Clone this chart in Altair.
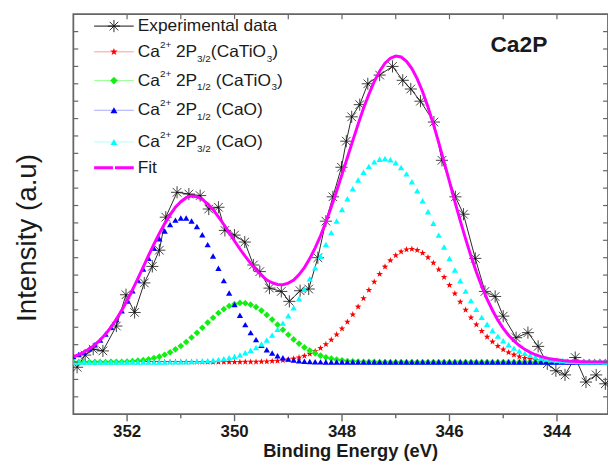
import altair as alt
import pandas as pd

FONT = "Liberation Sans"

# ---------------- data ----------------
energy_grid = [round(353.0 - 0.1 * i, 1) for i in range(101)]  # 353.0 ... 343.0

# Ca2+ 2P3/2 (CaTiO3)  - red stars
ca_tio3_p32 = [
    0, 0, 0, 0, 0, 0, 0, 0, 0, 0,
    0, 0, 0, 0, 0, 0, 0, 0, 0, 0,
    0, 0, 0, 0, 0, 0, 0, 0, 0, 0,
    0, 0, 0.01, 0.01, 0.01, 0.02, 0.03, 0.05, 0.07, 0.10,
    0.14, 0.19, 0.26, 0.35, 0.47, 0.62, 0.80, 1.02, 1.28, 1.58,
    1.92, 2.31, 2.73, 3.18, 3.66, 4.14, 4.61, 5.06, 5.48, 5.84,
    6.13, 6.35, 6.47, 6.50, 6.43, 6.27, 6.02, 5.70, 5.32, 4.88,
    4.42, 3.94, 3.46, 3.00, 2.56, 2.15, 1.78, 1.45, 1.17, 0.92,
    0.72, 0.55, 0.42, 0.31, 0.23, 0.17, 0.12, 0.08, 0.06, 0.04,
    0.03, 0.02, 0.01, 0.01, 0, 0, 0, 0, 0, 0,
    0,
]

# Ca2+ 2P1/2 (CaTiO3)  - green diamonds
ca_tio3_p12 = [
    0, 0, 0, 0, 0, 0, 0, 0.01, 0.01, 0.02,
    0.03, 0.05, 0.08, 0.11, 0.16, 0.23, 0.31, 0.42, 0.56, 0.73,
    0.92, 1.15, 1.41, 1.68, 1.97, 2.27, 2.55, 2.82, 3.04, 3.22,
    3.34, 3.40, 3.38, 3.30, 3.16, 2.96, 2.71, 2.44, 2.15, 1.86,
    1.57, 1.30, 1.06, 0.84, 0.66, 0.50, 0.37, 0.27, 0.20, 0.14,
    0.10, 0.06, 0.04, 0.03, 0.02, 0.01, 0.01, 0, 0, 0,
    0, 0, 0, 0, 0, 0, 0, 0, 0, 0,
    0, 0, 0, 0, 0, 0, 0, 0, 0, 0,
    0, 0, 0, 0, 0, 0, 0, 0, 0, 0,
    0, 0, 0, 0, 0, 0, 0, 0, 0, 0,
    0,
]

# Ca2+ 2P1/2 (CaO)  - blue triangles
cao_p12 = [
    0.31, 0.43, 0.57, 0.76, 0.99, 1.27, 1.61, 2.00, 2.45, 2.95,
    3.51, 4.10, 4.72, 5.35, 5.97, 6.55, 7.09, 7.54, 7.90, 8.16,
    8.28, 8.28, 8.11, 7.79, 7.32, 6.75, 6.10, 5.39, 4.68, 3.97,
    3.30, 2.69, 2.15, 1.69, 1.29, 0.97, 0.71, 0.52, 0.36, 0.25,
    0.17, 0.11, 0.07, 0.05, 0.03, 0.02, 0.01, 0, 0, 0,
    0, 0, 0, 0, 0, 0, 0, 0, 0, 0,
    0, 0, 0, 0, 0, 0, 0, 0, 0, 0,
    0, 0, 0, 0, 0, 0, 0, 0, 0, 0,
    0, 0, 0, 0, 0, 0, 0, 0, 0, 0,
    0, 0, 0, 0, 0, 0, 0, 0, 0, 0,
    0,
]

# Ca2+ 2P3/2 (CaO)  - cyan triangles
cao_p32 = [
    0, 0, 0, 0, 0, 0, 0, 0, 0, 0,
    0, 0, 0, 0, 0, 0, 0, 0, 0.01, 0.01,
    0.02, 0.02, 0.03, 0.04, 0.06, 0.08, 0.11, 0.14, 0.19, 0.25,
    0.32, 0.41, 0.53, 0.67, 0.83, 1.04, 1.27, 1.55, 1.88, 2.24,
    2.66, 3.12, 3.64, 4.19, 4.79, 5.42, 6.08, 6.76, 7.44, 8.11,
    8.77, 9.39, 9.96, 10.47, 10.91, 11.25, 11.51, 11.66, 11.70, 11.63,
    11.46, 11.19, 10.82, 10.37, 9.85, 9.27, 8.64, 7.98, 7.30, 6.62,
    5.95, 5.29, 4.67, 4.08, 3.53, 3.03, 2.57, 2.17, 1.81, 1.49,
    1.22, 0.99, 0.80, 0.64, 0.50, 0.39, 0.30, 0.23, 0.18, 0.13,
    0.10, 0.07, 0.05, 0.04, 0.03, 0.02, 0.01, 0.01, 0.01, 0,
    0,
]

# Fit envelope - magenta line
fit_total = [
    0.31, 0.43, 0.57, 0.76, 0.99, 1.27, 1.61, 2.01, 2.46, 2.97,
    3.54, 4.15, 4.80, 5.46, 6.13, 6.78, 7.40, 7.96, 8.46, 8.90,
    9.22, 9.45, 9.55, 9.51, 9.35, 9.10, 8.76, 8.35, 7.91, 7.44,
    6.96, 6.50, 6.07, 5.67, 5.29, 4.99, 4.72, 4.56, 4.46, 4.45,
    4.54, 4.72, 5.03, 5.43, 5.95, 6.56, 7.26, 8.05, 8.92, 9.83,
    10.79, 11.76, 12.73, 13.68, 14.59, 15.40, 16.13, 16.72, 17.18, 17.47,
    17.59, 17.54, 17.29, 16.87, 16.28, 15.54, 14.66, 13.68, 12.62, 11.50,
    10.37, 9.23, 8.13, 7.08, 6.09, 5.18, 4.35, 3.62, 2.98, 2.41,
    1.94, 1.54, 1.22, 0.95, 0.73, 0.56, 0.42, 0.31, 0.24, 0.17,
    0.13, 0.09, 0.06, 0.05, 0.03, 0.02, 0.01, 0.01, 0.01, 0,
    0,
]

# Experimental data - black asterisks
exp_energy = [352.93, 352.78, 352.63, 352.45, 352.2, 352.02, 351.86, 351.68, 351.53, 351.4,
              351.28, 351.07, 350.85, 350.64, 350.48, 350.3, 350.18, 350.0, 349.81, 349.65,
              349.53, 349.35, 349.13, 348.98, 348.78, 348.62, 348.45, 348.3, 348.17, 348.01,
              347.92, 347.82, 347.67, 347.52, 347.3, 347.06, 346.87, 346.72, 346.54, 346.29,
              346.14, 345.89, 345.74, 345.52, 345.34, 345.15, 345.0, 344.76, 344.54, 344.35,
              344.18, 344.02, 343.85, 343.66, 343.46, 343.27, 343.1]
exp_intensity = [-0.3, 0.4, 0.74, 0.64, 2.07, 3.87, 2.85, 4.55, 5.5, 6.43,
                 8.33, 9.76, 9.66, 9.57, 8.8, 8.9, 7.57, 7.3, 6.9, 5.58,
                 5.2, 4.25, 4.06, 3.49, 4.1, 4.2, 6.0, 8.1, 9.5, 11.2,
                 12.7, 14.1, 14.8, 16.0, 16.5, 17.0, 16.2, 15.7, 15.0, 13.8,
                 11.6, 9.5, 8.5, 5.96, 4.06, 3.77, 2.64, 1.4, 1.69, 0.9,
                 -0.1, -0.5, -0.74, 0.26, -1.15, -0.74, -1.25]

x_major = [352, 350, 348, 346, 344]
x_major_labels = ["352", "350", "348", "346", "344"]
x_minor = [351, 349, 347, 345]
x_all_ticks = [352, 351, 350, 349, 348, 347, 346, 345, 344]
y_ticks = list(range(-2, 20))

# ---------------- layout ----------------
W, H = 540, 404
TXT = "#1a1a1a"
FRAME = "#666666"
xs = alt.Scale(domain=[343.05, 353.0], reverse=True, nice=False, zero=False)
ys = alt.Scale(domain=[-3, 20], nice=False, zero=False)

ASTERISK = "M-1,0L1,0M0,-1L0,1M-0.71,-0.71L0.71,0.71M-0.71,0.71L0.71,-0.71"
STAR = ("M0,-1L0.235,-0.324L0.951,-0.309L0.38,0.124L0.588,0.809L0,0.4"
        "L-0.588,0.809L-0.38,0.124L-0.951,-0.309L-0.235,-0.324Z")

dummy = pd.DataFrame({"k": [0]})


def series_df(values):
    return pd.DataFrame({"E": energy_grid, "I": values})


exp_df = pd.DataFrame({"E": exp_energy, "I": exp_intensity})

xn = alt.X("E:Q", scale=xs, axis=None)
yn = alt.Y("I:Q", scale=ys, axis=None)

layers = []

# experimental
layers.append(alt.Chart(exp_df).mark_line(color="#111111", strokeWidth=0.9, clip=True)
              .encode(x=xn, y=yn))
layers.append(alt.Chart(exp_df).mark_point(shape=ASTERISK, filled=False, size=150,
                                           stroke="#111111", strokeWidth=0.8, opacity=1, clip=True)
              .encode(x=xn, y=yn))

# components
layers.append(alt.Chart(series_df(ca_tio3_p32)).mark_point(
    shape=STAR, filled=True, size=49, color="#ff0000", opacity=1, clip=True).encode(x=xn, y=yn))
layers.append(alt.Chart(series_df(ca_tio3_p12)).mark_point(
    shape="diamond", filled=True, size=45, color="#10f010", opacity=1, clip=True).encode(x=xn, y=yn))
layers.append(alt.Chart(series_df(cao_p12)).mark_point(
    shape="triangle-up", filled=True, size=40, color="#0000ff", opacity=1, clip=True).encode(x=xn, y=yn))
layers.append(alt.Chart(series_df(cao_p32)).mark_point(
    shape="triangle-up", filled=True, size=40, color="#00ffff", opacity=1, clip=True).encode(x=xn, y=yn))
layers.append(alt.Chart(series_df(fit_total)).mark_line(
    color="#ff00ff", strokeWidth=3, clip=True).encode(x=xn, y=yn))

# inward ticks: top, left, right ; outward ticks bottom
top_df = pd.DataFrame({"E": x_all_ticks})
layers.append(alt.Chart(top_df).mark_rule(color=FRAME, strokeWidth=1.2)
              .encode(x=xn, y=alt.value(0), y2=alt.value(5)))
left_df = pd.DataFrame({"I": y_ticks})
layers.append(alt.Chart(left_df).mark_rule(color=FRAME, strokeWidth=1.2)
              .encode(y=yn, x=alt.value(0), x2=alt.value(5)))
layers.append(alt.Chart(left_df).mark_rule(color=FRAME, strokeWidth=1.2)
              .encode(y=yn, x=alt.value(W - 5), x2=alt.value(W)))
layers.append(alt.Chart(pd.DataFrame({"E": x_major})).mark_rule(color=FRAME, strokeWidth=1.4)
              .encode(x=xn, y=alt.value(H), y2=alt.value(H + 7)))
layers.append(alt.Chart(pd.DataFrame({"E": x_minor})).mark_rule(color=FRAME, strokeWidth=1.4)
              .encode(x=xn, y=alt.value(H), y2=alt.value(H + 4)))

# x tick labels
lab_df = pd.DataFrame({"E": x_major, "lab": x_major_labels})
layers.append(alt.Chart(lab_df).mark_text(font=FONT, fontWeight="bold", fontSize=17,
                                          align="center", baseline="middle", color=TXT)
              .encode(x=xn, y=alt.value(H + 18), text="lab:N"))

# axis titles
layers.append(alt.Chart(dummy).mark_text(text="Binding Energy (eV)", font=FONT, fontWeight="bold",
                                         fontSize=18.5, align="center", baseline="alphabetic", color=TXT)
              .encode(x=alt.value(280), y=alt.value(447.5)))
layers.append(alt.Chart(dummy).mark_text(text="Intensity (a.u)", font=FONT, fontSize=28, angle=270,
                                         align="center", baseline="alphabetic", color=TXT)
              .encode(x=alt.value(-38), y=alt.value(226)))

# "Ca2P" label
layers.append(alt.Chart(dummy).mark_text(text="Ca2P", font=FONT, fontWeight="bold", fontSize=23,
                                         align="center", baseline="middle", color=TXT)
              .encode(x=alt.value(450), y=alt.value(31.5)))

# ---------------- legend ----------------
CW = {'C': 722, 'a': 556, ' ': 278, '2': 556, 'P': 667, '(': 333, 'T': 611, 'i': 222,
      'O': 778, ')': 333, '+': 584, '1': 556, '3': 556, '/': 278}


def tw(s, size):
    return sum(CW.get(c, 556) for c in s) * size / 1000.0


MAIN, SMALL = 17.5, 10
SYM_X, L_X1, L_X2, T_X = 41, 21, 61, 65

legend_rows = [
    (12, [("Experimental data", "n")], "#111111", 1, None, ASTERISK, 150, False, "#111111"),
    (38, [("Ca", "n"), ("2+", "sup"), (" 2P", "n"), ("3/2", "sub"), ("(CaTiO", "n"), ("3", "sub"), (")", "n")],
     "#ff9a9a", 1, None, STAR, 64, True, "#ff0000"),
    (67, [("Ca", "n"), ("2+", "sup"), (" 2P", "n"), ("1/2", "sub"), (" (CaTiO", "n"), ("3", "sub"), (")", "n")],
     "#9aff9a", 1, None, "diamond", 60, True, "#10f010"),
    (97, [("Ca", "n"), ("2+", "sup"), (" 2P", "n"), ("1/2", "sub"), (" (CaO)", "n")],
     "#a8a8ff", 1, None, "triangle-up", 50, True, "#0000ff"),
    (129, [("Ca", "n"), ("2+", "sup"), (" 2P", "n"), ("3/2", "sub"), (" (CaO)", "n")],
     "#a8ffff", 1, None, "triangle-up", 50, True, "#00ffff"),
    (155, [("Fit", "n")], "#ff00ff", 3, [19, 2], None, 0, True, "#ff00ff"),
]

for (ry, parts, lcol, lw, dash, shape, ssize, sfill, scol) in legend_rows:
    rule_kwargs = dict(color=lcol, strokeWidth=lw)
    if dash:
        rule_kwargs["strokeDash"] = dash
    layers.append(alt.Chart(dummy).mark_rule(**rule_kwargs)
                  .encode(x=alt.value(L_X1), x2=alt.value(L_X2), y=alt.value(ry)))
    if shape:
        if sfill:
            pm = alt.Chart(dummy).mark_point(shape=shape, filled=True, size=ssize, color=scol, opacity=1)
        else:
            pm = alt.Chart(dummy).mark_point(shape=shape, filled=False, size=ssize, stroke=scol,
                                             strokeWidth=0.9, opacity=1)
        layers.append(pm.encode(x=alt.value(SYM_X), y=alt.value(ry)))
    xpos = T_X
    for text, kind in parts:
        size = MAIN if kind == "n" else SMALL
        while text.startswith(" "):
            xpos += tw(" ", size)
            text = text[1:]
        dy = {"n": 0, "sup": -7, "sub": 7}[kind]
        layers.append(alt.Chart(dummy).mark_text(text=text, font=FONT, fontSize=size, align="left",
                                                 baseline="middle", color=TXT)
                      .encode(x=alt.value(round(xpos, 1)), y=alt.value(ry + dy)))
        xpos += tw(text, size)

chart = alt.layer(*layers).properties(
    width=W, height=H,
    autosize=alt.AutoSizeParams(type="none"),
    padding={"left": 66, "top": 4, "right": 0, "bottom": 48},
    background="white",
).configure_view(stroke=FRAME, strokeWidth=1.8)

chart.save("out.html", embed_options={"renderer": "svg", "actions": False})
